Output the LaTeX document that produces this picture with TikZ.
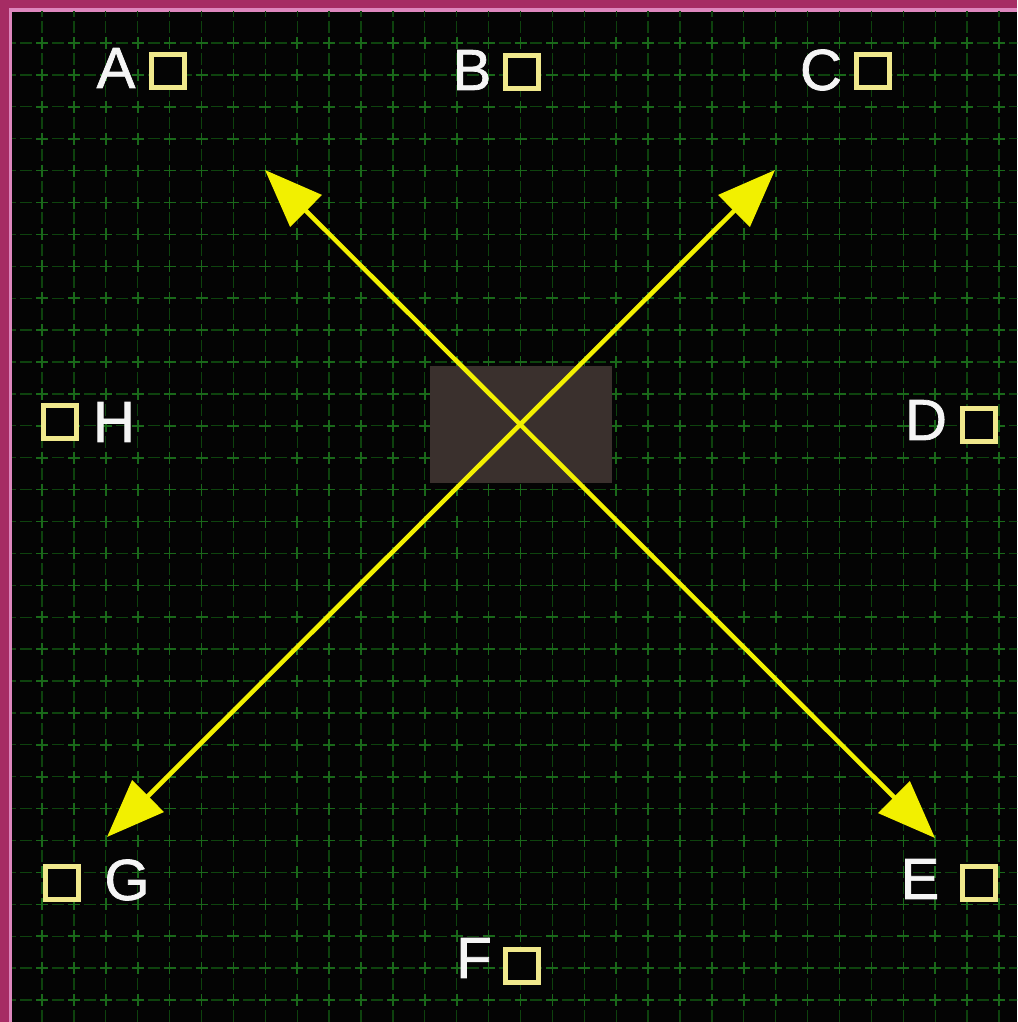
\documentclass[tikz,border=0pt]{standalone}
\usepackage{fontspec}
\setmainfont{Liberation Sans}
\newfontfamily\labelfont[FakeBold=1.2]{Liberation Sans}
\usetikzlibrary{arrows.meta}
\definecolor{plum}{RGB}{166,44,100}
\definecolor{pinkline}{RGB}{222,135,190}
\definecolor{bg}{RGB}{4,4,4}
\definecolor{gridgreen}{RGB}{14,66,14}
\definecolor{crossgreen}{RGB}{26,105,26}
\definecolor{boxfill}{RGB}{58,48,45}
\definecolor{arrowyellow}{RGB}{242,240,0}
\definecolor{sqyellow}{RGB}{240,232,140}
\definecolor{labelwhite}{RGB}{245,245,245}
\tikzset{
  gridline/.style={draw=gridgreen, line width=1.3pt, dash pattern=on 11.95pt off 4pt},
  crossmark/.style={draw=crossgreen, line width=1.6pt},
  pin/.style={draw=sqyellow, line width=4.5pt, fill=bg, minimum size=33pt, inner sep=0pt},
  lbl/.style={text=labelwhite, inner sep=0pt, font=\labelfont\fontsize{58}{60}\selectfont},
  dblarrow/.style={draw=arrowyellow, line width=4.5pt, {Triangle[length=58pt,width=44pt]}-{Triangle[length=58pt,width=44pt]}},
  centerbox/.style={fill=boxfill, minimum width=182pt, minimum height=117pt, inner sep=0pt}
}
\begin{document}
\begin{tikzpicture}[x=1pt,y=-1pt]
\useasboundingbox (0,0) rectangle (1017,1022);
% frame
\fill[plum] (0,0) rectangle (1017,1022);
\fill[pinkline] (8.5,8.5) rectangle (1017,1022);
\fill[bg] (12,12) rectangle (1017,1022);
% grid
\begin{scope}
\clip (12,12) rectangle (1017,1022);
\foreach \i in {0,...,31} {
  \pgfmathsetmacro{\gx}{42+31.9*\i}
  \pgfmathsetmacro{\gy}{43+31.9*\i}
  \draw[gridline] (\gx,{43-31.9-6}) -- (\gx,1030);
  \draw[gridline] ({42-31.9-6},\gy) -- (1030,\gy);
}
\foreach \i in {0,...,31} {
  \foreach \j in {0,...,31} {
    \pgfmathsetmacro{\gx}{42+31.9*\i}
    \pgfmathsetmacro{\gy}{43+31.9*\j}
    \draw[crossmark] (\gx-6,\gy) -- (\gx+6,\gy) (\gx,\gy-6) -- (\gx,\gy+6);
  }
}
\end{scope}
% centre box
\node[centerbox] (box) at (521,424.5) {};
% arrow ends
\coordinate (tl) at (265,170);
\coordinate (br) at (935,838);
\coordinate (tr) at (775,170);
\coordinate (bl) at (107,837);
\draw[dblarrow] (tl) -- (br);
\draw[dblarrow] (tr) -- (bl);
% pins and labels
\node[pin] (pA) at (168,71) {};
\node[lbl] (lA) at (116,68) {A};
\node[pin] (pB) at (522,72) {};
\node[lbl] (lB) at (472,70) {B};
\node[pin] (pC) at (873,71) {};
\node[lbl] (lC) at (821,70) {C};
\node[pin] (pD) at (979,425) {};
\node[lbl] (lD) at (926,420) {D};
\node[pin] (pE) at (979,883) {};
\node[lbl] (lE) at (920,879) {E};
\node[pin] (pF) at (522,966) {};
\node[lbl] (lF) at (474,958) {F};
\node[pin] (pG) at (62,883) {};
\node[lbl] (lG) at (127,880) {G};
\node[pin] (pH) at (60,422) {};
\node[lbl] (lH) at (114,422) {H};
\end{tikzpicture}
\end{document}
